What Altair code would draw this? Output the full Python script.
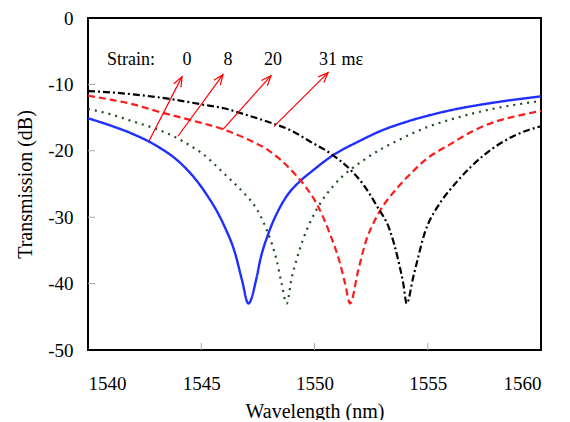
import math
import altair as alt
import pandas as pd

W, H = 453, 332
FONT = "Liberation Serif"

# ---- data ----
blue_x = [1540, 1541, 1542, 1543, 1544, 1544.5, 1545.2, 1546, 1546.5, 1546.8, 1547.08, 1547.45, 1547.6, 1547.96, 1548.4, 1548.84, 1549.29, 1549.88, 1550.76, 1552, 1553, 1554, 1556, 1558, 1560]
blue_y = [-15.1, -16.2, -17.5, -19.2, -21.6, -23.3, -26.4, -31.2, -35.5, -39.5, -43.0, -39.0, -36.5, -32.5, -29.0, -26.5, -24.8, -23.1, -20.8, -18.5, -16.9, -15.7, -13.9, -12.7, -11.8]

green_x = [1540, 1541, 1542, 1543, 1544, 1544.5, 1545, 1546, 1547, 1547.3, 1547.9, 1548.33, 1548.55, 1548.77, 1549.0, 1549.2, 1549.5, 1549.75, 1550.24, 1550.83, 1552.3, 1553.7, 1555, 1556, 1558, 1560]
green_y = [-13.7, -14.5, -15.6, -16.7, -18.2, -19.2, -20.3, -23.4, -26.8, -28.0, -32.0, -36.5, -40.0, -43.0, -39.0, -36.5, -33.3, -31.2, -28.0, -25.3, -21.1, -18.4, -16.4, -15.3, -13.6, -12.5]

red_x = [1540, 1541, 1542, 1543, 1544, 1545, 1546, 1547, 1548, 1549, 1549.58, 1550.1, 1550.68, 1551.13, 1551.35, 1551.57, 1551.93, 1552.3, 1552.6, 1552.9, 1553.6, 1554.2, 1554.95, 1556, 1557, 1558, 1559, 1560]
red_y = [-11.7, -12.3, -13.0, -14.0, -14.9, -15.8, -16.8, -18.2, -20.0, -23.0, -25.3, -28.0, -32.5, -37.0, -40.0, -43.0, -38.0, -33.3, -30.9, -29.0, -25.8, -23.6, -21.2, -19.0, -17.0, -15.6, -14.7, -14.0]

black_x = [1540, 1541, 1542, 1543, 1544, 1545, 1546, 1547, 1548, 1549, 1549.8, 1550.7, 1551.57, 1552.2, 1552.75, 1553.33, 1553.7, 1553.92, 1554.07, 1554.36, 1554.58, 1554.88, 1555.1, 1555.4, 1556.3, 1557.5, 1558.9, 1560]
black_y = [-11.0, -11.2, -11.5, -11.9, -12.4, -13.0, -13.6, -14.6, -15.7, -17.0, -18.6, -20.4, -22.8, -25.3, -28.3, -32.0, -36.5, -40.0, -43.0, -39.0, -36.0, -32.2, -30.4, -28.6, -24.6, -20.6, -17.6, -16.3]

series_names = ["0", "8", "20", "31"]
series_colors = ["#1f2fff", "#1e4d1e", "#ff1a1a", "#000000"]
series_dash = [[1, 0], [2, 5], [7, 4], [7, 3, 2, 3]]

label_text = ["Strain:", "0", "8", "20", "31 m\u03b5"]
label_x = [1541.9, 1544.37, 1546.18, 1548.17, 1551.17]
label_y = [-6.4, -6.4, -6.4, -6.4, -6.4]

arrow_x1 = [1542.69, 1543.97, 1545.96, 1548.21]
arrow_y1 = [-18.56, -17.81, -16.77, -16.32]
arrow_x2 = [1544.15, 1545.96, 1548.08, 1550.6]
arrow_y2 = [-8.83, -8.53, -8.68, -8.23]

x_ticks = [1545, 1550, 1555]
y_ticks = [-10, -20, -30, -40]

# ---- build ----
xs = alt.Scale(domain=[1540, 1560], nice=False)
ys = alt.Scale(domain=[-50, 0], nice=False)

layers = []
for name, xv, yv, col, dash in zip(series_names,
                                   [blue_x, green_x, red_x, black_x],
                                   [blue_y, green_y, red_y, black_y],
                                   series_colors, series_dash):
    df = pd.DataFrame({"x": xv, "y": yv})
    layers.append(
        alt.Chart(df).mark_line(color=col, strokeWidth=2.4 if name == "0" else 2.2,
                                strokeDash=dash, interpolate="monotone")
        .encode(
            x=alt.X("x:Q", scale=xs,
                    axis=alt.Axis(title="Wavelength (nm)", values=[1540, 1545, 1550, 1555, 1560],
                                  labelExpr="toString(datum.value)",
                                  labelPadding=24, titlePadding=8)),
            y=alt.Y("y:Q", scale=ys,
                    axis=alt.Axis(title="Transmission (dB)", values=[0, -10, -20, -30, -40, -50],
                                  labelExpr="toString(datum.value)",
                                  labelPadding=15, titlePadding=12)),
        )
    )

sx = W / 20.0
sy = H / 50.0
angles = [math.degrees(math.atan2((b - a) * sx, (d - c) * sy))
          for a, b, c, d in zip(arrow_x1, arrow_x2, arrow_y1, arrow_y2)]
arr = pd.DataFrame({"x1": arrow_x1, "y1": arrow_y1, "x2": arrow_x2, "y2": arrow_y2, "angle": angles})

shafts = alt.Chart(arr).mark_rule(color="#ff0000", strokeWidth=1.2).encode(
    x=alt.X("x1:Q", scale=xs), y=alt.Y("y1:Q", scale=ys), x2="x2:Q", y2="y2:Q")
heads = alt.Chart(arr).mark_point(shape="M-0.4,1L0,0L0.4,1", filled=False, size=400,
                                  stroke="#ff0000", strokeWidth=1.2, opacity=1).encode(
    x=alt.X("x2:Q", scale=xs), y=alt.Y("y2:Q", scale=ys),
    angle=alt.Angle("angle:Q", scale=None))

lab = pd.DataFrame({"t": label_text, "x": label_x, "y": label_y})
texts = alt.Chart(lab).mark_text(font=FONT, fontSize=18, color="black",
                                 align="center", baseline="middle").encode(
    x=alt.X("x:Q", scale=xs), y=alt.Y("y:Q", scale=ys), text="t:N")

xt = alt.Chart(pd.DataFrame({"x": x_ticks})).mark_rule(color="#aaaaaa", strokeWidth=1).encode(
    x=alt.X("x:Q", scale=xs), y=alt.value(H), y2=alt.value(H - 7))
yt = alt.Chart(pd.DataFrame({"y": y_ticks})).mark_rule(color="#aaaaaa", strokeWidth=1).encode(
    y=alt.Y("y:Q", scale=ys), x=alt.value(0), x2=alt.value(7))

chart = alt.layer(xt, yt, *layers, shafts, heads, texts).properties(
    width=W, height=H,
    autosize=alt.AutoSizeParams(type="none"),
    padding={"left": 80, "top": 10, "right": 20, "bottom": 70},
).configure_view(stroke="black", strokeWidth=2).configure_axis(
    grid=False, ticks=False, domain=False,
    labelFont=FONT, labelFontSize=19, labelColor="black",
    titleFont=FONT, titleFontSize=20, titleFontWeight="normal", titleColor="black",
)

chart.save("out.html", embed_options={"renderer": "svg", "actions": False})
